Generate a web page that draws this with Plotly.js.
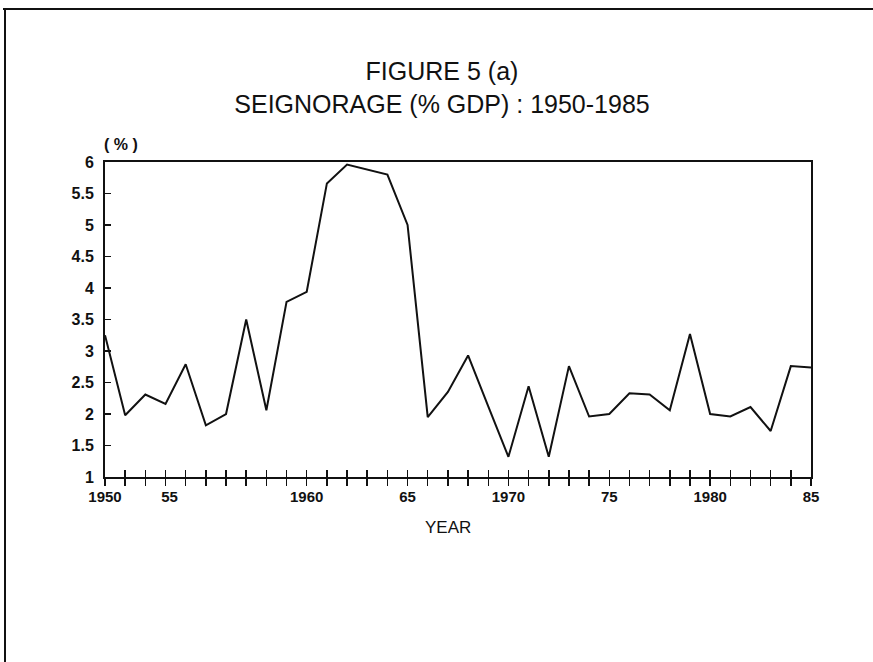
<!DOCTYPE html>
<html>
<head>
<meta charset="utf-8">
<script src="https://cdn.plot.ly/plotly-3.0.1.min.js"></script>
<style>
html,body{margin:0;padding:0;background:#fff;}
#chart{width:873px;height:662px;}
</style>
</head>
<body>
<div id="chart"></div>
<script>
// ---- data ----
var years = [1950,1951,1952,1953,1954,1955,1956,1957,1958,1959,
             1960,1961,1962,1963,1964,1965,1966,1967,1968,1969,
             1970,1971,1972,1973,1974,1975,1976,1977,1978,1979,
             1980,1981,1982,1983,1984,1985];
var seignorage = [3.25,1.98,2.31,2.16,2.79,1.82,2.00,3.50,2.06,3.78,
                  3.94,5.66,5.96,5.88,5.80,5.00,1.95,2.35,2.93,2.12,
                  1.32,2.44,1.32,2.76,1.96,2.00,2.33,2.31,2.06,3.27,
                  2.00,1.96,2.11,1.73,2.76,2.74];
var xTickVals = [1950,1953.2,1960,1965,1970,1975,1980,1985];
var xTickText = ["1950","55","1960","65","1970","75","1980","85"];
var yTickVals = [1,1.5,2,2.5,3,3.5,4,4.5,5,5.5,6];
var yTickText = ["1","1.5","2","2.5","3","3.5","4","4.5","5","5.5","6"];

var titleText = "FIGURE 5 (a)<br>SEIGNORAGE (% GDP) : 1950-1985";
var xTitle = "YEAR";
var yUnit = "( % )";

// ---- layout helpers ----
var W = 873, H = 662;
var L = 105, R = 62, T = 162, B = 185;
var pw = W - L - R, ph = H - T - B;
function px2x(px){ return (px - L) / pw; }
function px2y(py){ return (H - B - py) / ph; }

var font = "Liberation Sans, Arial, sans-serif";
var ink = "#111";

var traces = [
  {x: years, y: seignorage, type: "scatter", mode: "lines",
   line: {color: ink, width: 2}, hoverinfo: "x+y", xaxis: "x", yaxis: "y"},
  {x: years, y: seignorage, type: "scatter", mode: "lines",
   line: {color: "rgba(0,0,0,0)", width: 0}, hoverinfo: "skip", xaxis: "x2", yaxis: "y"},
  {x: years, y: seignorage, type: "scatter", mode: "lines",
   line: {color: "rgba(0,0,0,0)", width: 0}, hoverinfo: "skip", xaxis: "x3", yaxis: "y"}
];

var layout = {
  width: W, height: H,
  margin: {l: L, r: R, t: T, b: B, pad: 0},
  paper_bgcolor: "#fff", plot_bgcolor: "#fff",
  showlegend: false,
  title: {text: titleText, font: {family: font, size: 25, color: ink},
          x: 442 / W, xref: "container", xanchor: "center",
          y: 1 - 80 / H, yref: "container", yanchor: "top"},
  xaxis: {range: [1950, 1985], showgrid: false, zeroline: false,
          showline: true, linecolor: ink, linewidth: 2, mirror: true,
          ticks: "outside", tick0: 1950, dtick: 1, ticklen: 7, tickwidth: 1.5, tickcolor: ink,
          showticklabels: false},
  xaxis2: {range: [1950, 1985], overlaying: "x", anchor: "y", side: "bottom",
           showgrid: false, zeroline: false, showline: false,
           ticks: "inside", tick0: 1950, dtick: 1, ticklen: 7, tickwidth: 1.5, tickcolor: ink,
           showticklabels: false},
  xaxis3: {range: [1950, 1985], overlaying: "x", anchor: "y", side: "bottom",
           showgrid: false, zeroline: false, showline: false, ticks: "",
           tickmode: "array", tickvals: xTickVals, ticktext: xTickText,
           ticklabelstandoff: 9,
           tickfont: {family: font, size: 15, color: ink, weight: "bold"}},
  yaxis: {range: [1, 6], showgrid: false, zeroline: false,
          showline: true, linecolor: ink, linewidth: 2, mirror: true,
          ticks: "inside", ticklen: 6, tickwidth: 1.5, tickcolor: ink,
          tickmode: "array", tickvals: yTickVals, ticktext: yTickText,
          ticklabelstandoff: 6,
          tickfont: {family: font, size: 16, color: ink, weight: "bold"}},
  annotations: [
    {text: yUnit, xref: "paper", yref: "paper", x: px2x(102), y: px2y(155),
     xanchor: "left", yanchor: "bottom", showarrow: false,
     font: {family: font, size: 16, color: ink, weight: "bold"}},
    {text: xTitle, xref: "paper", yref: "paper", x: px2x(448), y: px2y(527),
     xanchor: "center", yanchor: "middle", showarrow: false,
     font: {family: font, size: 17, color: ink}}
  ],
  shapes: [
    {type: "line", xref: "paper", yref: "paper",
     x0: px2x(3), x1: px2x(873), y0: px2y(9), y1: px2y(9),
     line: {color: ink, width: 2}},
    {type: "line", xref: "paper", yref: "paper",
     x0: px2x(5), x1: px2x(5), y0: px2y(9), y1: px2y(662),
     line: {color: ink, width: 2}}
  ]
};

Plotly.newPlot("chart", traces, layout, {displayModeBar: false, staticPlot: true});
</script>
</body>
</html>
